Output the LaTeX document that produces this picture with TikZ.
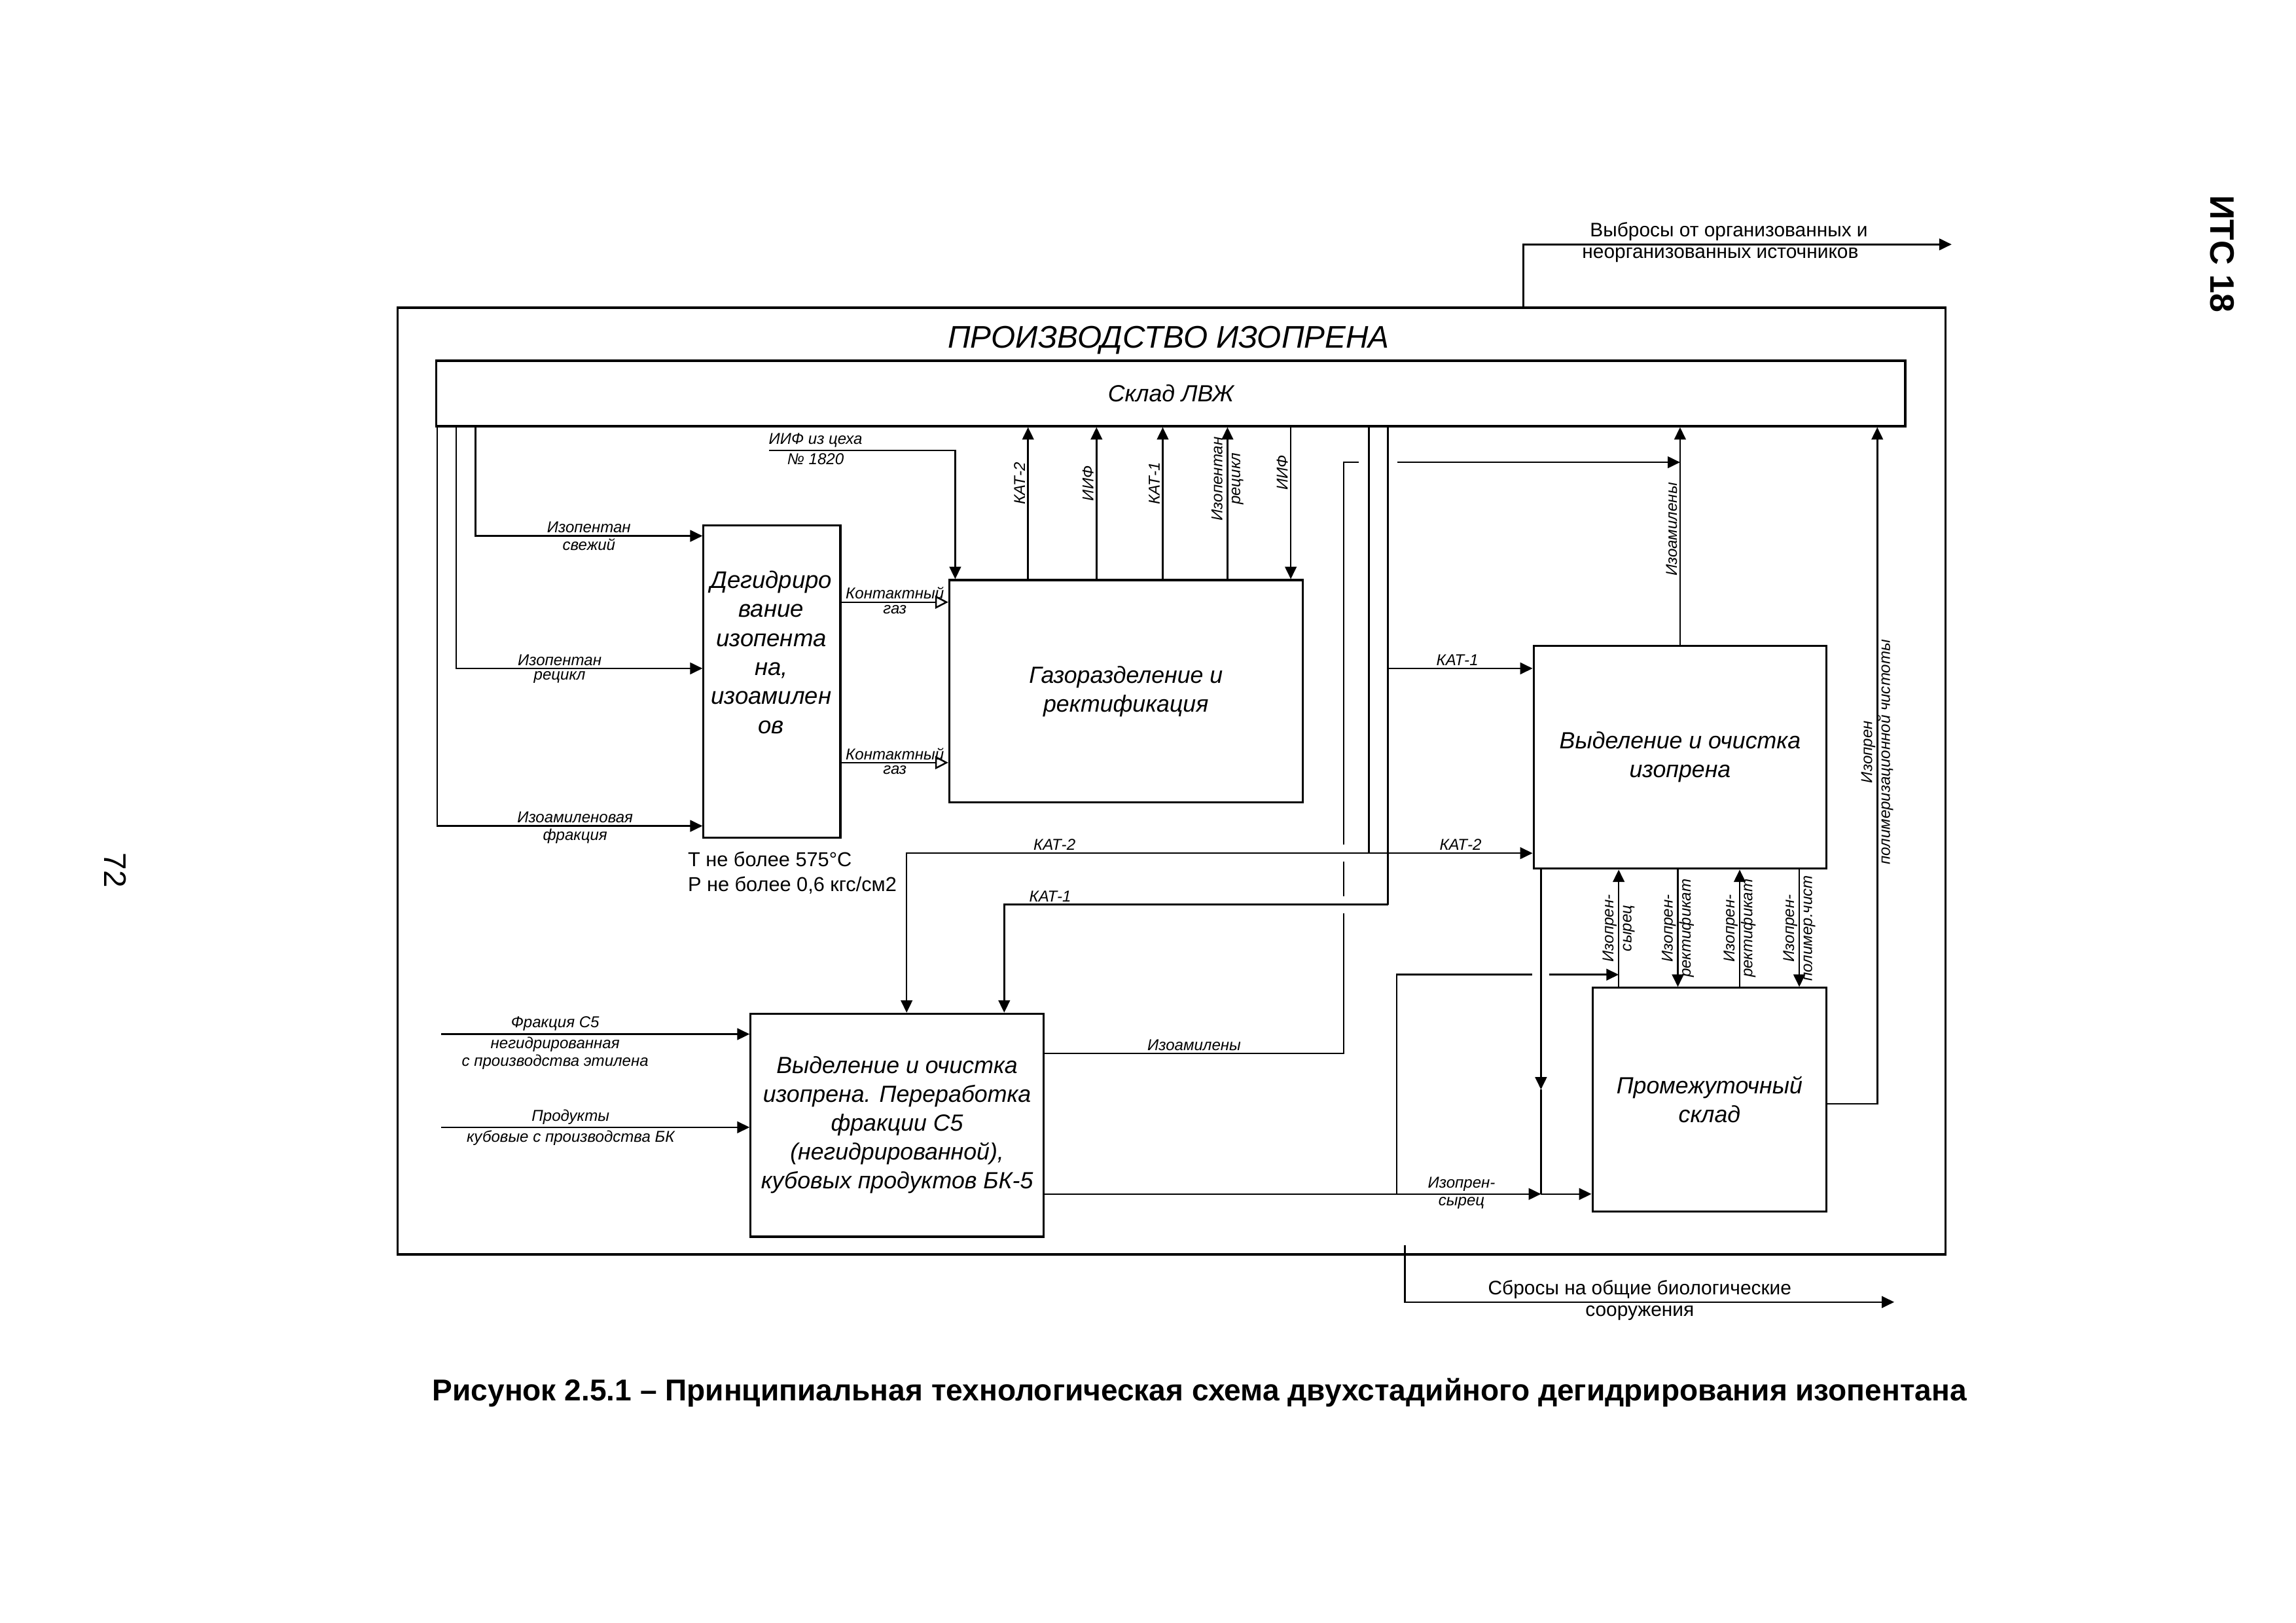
\documentclass[tikz,border=0pt]{standalone}
\usepackage{fontspec}
\setmainfont{Liberation Sans}
\usetikzlibrary{arrows.meta}
\newcommand\pxu{0.1904mm}

\begin{document}
\begin{tikzpicture}[
			x=0.1904mm, y=-0.1904mm,
			line width=0.6pt,
			box/.style={draw, line width=0.75pt, inner sep=0pt, align=center, font=\fontsize{8.6}{10.6}\selectfont\itshape},
			flow/.style={-{Triangle[length=1.6mm,width=1.5mm]}},
			rflow/.style={{Triangle[length=1.6mm,width=1.5mm]}-},
			gas/.style={-{Triangle[open,length=1.7mm,width=1.7mm]}},
			lab/.style={font=\fontsize{5.8}{6.6}\selectfont\itshape, inner sep=0.8pt, align=center},
			note/.style={font=\fontsize{7.2}{8.4}\selectfont, inner sep=1pt, align=center}
		]
		\useasboundingbox (0,0) rectangle (1560,1102.4);

		\node[box, minimum width=1052*\pxu, minimum height=643*\pxu] (frame) at (796,530.5) {};
		\node[font=\fontsize{11.5}{13}\selectfont\itshape] (title) at (794,231) {ПРОИЗВОДСТВО ИЗОПРЕНА};
		\node[box, minimum width=998*\pxu, minimum height=44.5*\pxu] (sklad) at (795.5,267.25) {Склад ЛВЖ};

		\node[box, minimum width=93*\pxu, minimum height=212*\pxu] (dehydro) at (524.5,463) {};
		\node[box, draw=none, font=\fontsize{8.8}{10.7}\selectfont\itshape] (dehydrotext) at (524,443)
			{Дегидриро\\вание\\изопента\\на,\\изоамилен\\ов};
		\node[box, minimum width=240*\pxu, minimum height=151*\pxu] (gassep) at (765,469.5) {Газоразделение и\\ректификация};
		\node[box, minimum width=199*\pxu, minimum height=151.5*\pxu] (isoprene) at (1141.5,514.25) {Выделение и очистка\\изопрена};
		\node[box, minimum width=159*\pxu, minimum height=152*\pxu] (buffer) at (1161.5,747) {Промежуточный\\склад};
		\node[box, minimum width=199*\pxu, minimum height=151.5*\pxu] (c5proc) at (609.5,764.25)
			{Выделение и очистка\\изопрена. Переработка\\фракции С5\\(негидрированной),\\кубовых продуктов БК-5};
		\node[note, anchor=west, align=left, font=\fontsize{7.4}{9.1}\selectfont] (regime) at (465,593)
			{T не более 575°C\\P не более 0,6 кгс/см2};

		\coordinate (r1) at (323,364);
		\coordinate (r2) at (310,454);
		\coordinate (r3) at (297,561);
		\draw[flow] (sklad.south -| r1) |- (dehydro.west |- r1)
			node[lab, above, pos=.75] {Изопентан} node[lab, below, pos=.75] {свежий};
		\draw[flow] (sklad.south -| r2) |- (dehydro.west |- r2)
			node[lab, above, pos=.71] {Изопентан} node[lab, below, pos=.71] {рецикл};
		\draw[flow] (sklad.south -| r3) |- (dehydro.west |- r3)
			node[lab, above, pos=.76] {Изоамиленовая} node[lab, below, pos=.76] {фракция};

		\coordinate (g1) at (0,409);
		\coordinate (g2) at (0,518);
		\draw[gas] (dehydro.east |- g1) -- (gassep.west |- g1)
			node[lab, above, midway] {Контактный} node[lab, below, midway] {газ};
		\draw[gas] (dehydro.east |- g2) -- (gassep.west |- g2)
			node[lab, above, midway] {Контактный} node[lab, below, midway] {газ};

		\coordinate (iif) at (522.5,306);
		\coordinate (iifx) at (649,306);
		\draw[flow] (iif) -- node[lab, above, pos=.25] {ИИФ из цеха} node[lab, below, pos=.25] {№ 1820} (iifx)
			-- (gassep.north -| iifx);

		\foreach \x/\t [count=\i] in {698.5/КАТ-2, 745/ИИФ, 790/КАТ-1} {
				\coordinate (top\i) at (\x,0);
				\draw[flow] (gassep.north -| top\i) -- (sklad.south -| top\i)
					node[lab, rotate=90, above, pos=.63] {\t};
			}
		\coordinate (top4) at (834,0);
		\coordinate (top5) at (877,0);
		\draw[flow] (gassep.north -| top4) -- (sklad.south -| top4)
			node[lab, rotate=90, pos=.66] {Изопентан\\рецикл};
		\draw[flow] (sklad.south -| top5) -- (gassep.north -| top5)
			node[lab, rotate=90, above, pos=.3] {ИИФ};

		\coordinate (v2) at (930,579.5);
		\coordinate (v3) at (943,614.4);
		\coordinate (k1u) at (943,454);
		\coordinate (k2) at (616,579.5);
		\coordinate (k1) at (682.3,614.4);
		\draw[flow] (sklad.south -| v2) -- (v2) -- (isoprene.west |- v2)
			node[lab, above, pos=.56] {КАТ-2};
		\draw[flow] (v2) -| (c5proc.north -| k2) node[lab, above, pos=.34] {КАТ-2};
		\draw (sklad.south -| v3) -- (v3);
		\draw[flow] (k1u) -- (isoprene.west |- k1u) node[lab, above, pos=.48] {КАТ-1};
		\draw[flow] (v3) -| (c5proc.north -| k1) node[lab, above, pos=.44] {КАТ-1};

		\coordinate (iz1) at (913,715.5);
		\coordinate (iz2) at (913,314);
		\draw (c5proc.east |- iz1) -- node[lab, above, pos=.5] {Изоамилены} (iz1) -- ([yshift=-1.1mm]v3 -| iz1);
		\draw ([yshift=1.1mm]v3 -| iz1) -- ([yshift=-1.1mm]v2 -| iz1);
		\draw ([yshift=1.1mm]v2 -| iz1) -- (iz2) -- ([xshift=-1.3mm]v2 |- iz2);
		\draw[flow] ([xshift=1.2mm]v3 |- iz2) -- (isoprene.north |- iz2);
		\draw[flow] (isoprene.north) -- (sklad.south -| isoprene.north)
			node[lab, rotate=90, above, pos=.53] {Изоамилены};

		\coordinate (s1) at (949,811);
		\coordinate (s2) at (1047,811);
		\coordinate (s3) at (949,662);
		\coordinate (d1) at (1047,740);
		\draw[flow] (c5proc.east |- s1) -- (s2)
			node[lab, above, pos=.84] {Изопрен-} node[lab, below, pos=.84] {сырец};
		\draw[flow] (s2) -- (buffer.west |- s2);
		\draw[flow] (isoprene.south -| s2) -- (d1);
		\draw (d1) -- (s2);

		\foreach \x/\s/\t [count=\i] in {1099.8/flow/{Изопрен-\\сырец}, 1140/rflow/{Изопрен-\\ректификат},
				1182/flow/{Изопрен-\\ректификат}, 1222.5/rflow/{Изопрен-\\полимер.чист}} {
				\coordinate (c\i) at (\x,0);
				\draw[\s] (buffer.north -| c\i) -- (isoprene.south -| c\i)
					node[lab, rotate=90, pos=.5] {\t};
			}
		\draw (s1) -- (s3) -- ([xshift=-1.1mm]s3 -| s2);
		\draw[flow] ([xshift=1.1mm]s3 -| s2) -- (s3 -| c1);

		\coordinate (p1) at (1275.5,749.8);
		\draw[flow] (buffer.east |- p1) -- (p1) -- (sklad.south -| p1)
			node[lab, rotate=90, pos=.52] {Изопрен\\полимеризационной чистоты};

		\coordinate (i1) at (299.6,702.4);
		\coordinate (i2) at (299.6,765.7);
		\draw[flow] (i1) -- (c5proc.west |- i1)
			node[lab, above, pos=.37] {Фракция С5} node[lab, below, pos=.37] {негидрированная\\с производства этилена};
		\draw[flow] (i2) -- (c5proc.west |- i2)
			node[lab, above, pos=.42] {Продукты} node[lab, below, pos=.42] {кубовые с производства БК};

		\coordinate (b1) at (954.5,845.6);
		\coordinate (b2) at (954.5,884.4);
		\coordinate (b3) at (1287,884.4);
		\draw[flow] (b1) -- (b2) -- (b3)
			node[note, above, pos=.48] {Сбросы на общие биологические} node[note, below, pos=.48] {сооружения};

		\coordinate (e1) at (1035,166);
		\coordinate (e2) at (1326,166);
		\draw[flow] (frame.north -| e1) -- (e1) -- (e2)
			node[note, above, pos=.48] {Выбросы от организованных и} node[note, below, pos=.46] {неорганизованных источников};

		\node[font=\fontsize{11.5}{12}\selectfont, rotate=-90] (page) at (78.5,591) {72};
		\node[font=\fontsize{12.5}{13}\selectfont\bfseries, rotate=-90] (its) at (1510,172.4) {ИТС 18};
		\node[font=\fontsize{11.1}{12}\selectfont\bfseries] (caption) at (815,946)
			{Рисунок 2.5.1 – Принципиальная технологическая схема двухстадийного дегидрирования изопентана};
	\end{tikzpicture}
\end{document}
